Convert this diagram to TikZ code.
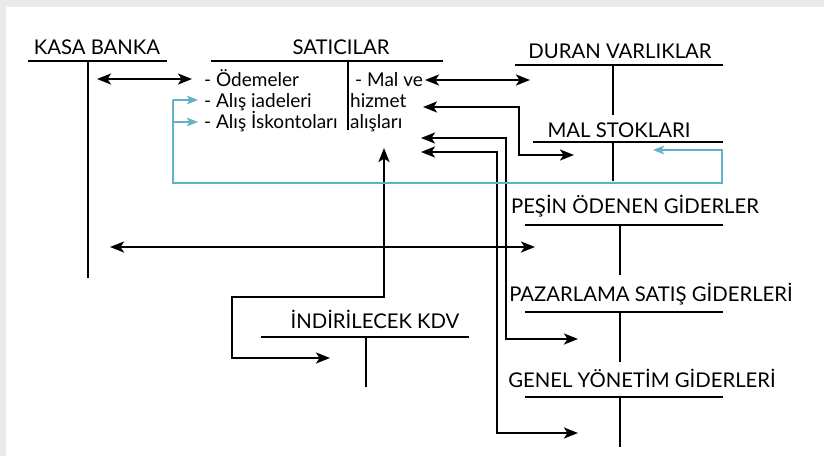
\documentclass[tikz,border=0pt]{standalone}
\usepackage{fontspec}
\setmainfont{Lato}
\usetikzlibrary{arrows.meta,calc}
\definecolor{backline}{RGB}{96,178,200}
\definecolor{scanframe}{RGB}{234,234,234}
\tikzset{%
  title/.style = {anchor=base, inner sep=0pt, font=\fontsize{20.3}{22}\selectfont},%
  item/.style  = {anchor=base west, inner sep=0pt, font=\fontsize{19}{21}\selectfont},%
  tline/.style = {line width=2.8pt},%
  conn/.style  = {line width=2.4pt, line join=miter,%
                  {Stealth[length=14pt,width=11pt,inset=3.5pt]}-{Stealth[length=14pt,width=11pt,inset=3.5pt]}},%
  back/.style  = {line width=1.7pt, draw=backline,%
                  -{Stealth[length=11pt,width=8.5pt,inset=2.5pt]}}%
}

\begin{document}
\begin{tikzpicture}[x=1pt,y=-1pt]
	\useasboundingbox (0,0) rectangle (824,456);
	\fill[scanframe] (0,0) rectangle (824,456);
	\fill[white] (6,7) rectangle (824,456);
	% T accounts
	\node[title] (kasa) at (97,54) {KASA BANKA};
	\draw[tline] (28,61) -- (167,61) (88,61) -- (88,278);
	\node[title] (satici) at (341,54) {SATICILAR};
	\draw[tline] (211,61) -- (443,61) (348,61) -- (348,130);
	\node[title] (duran) at (620,58) {DURAN VARLIKLAR};
	\draw[tline] (515,65) -- (723,65) (613,65) -- (613,115);
	\node[title] (stok) at (619,137) {MAL STOKLARI};
	\draw[tline] (533,142) -- (723,142) (613,142) -- (613,181);
	\node[title] (pesin) at (635,213) {PEŞİN ÖDENEN GİDERLER};
	\draw[tline] (525,225) -- (723,225) (620,225) -- (620,275);
	\node[title] (pazar) at (651,301) {PAZARLAMA SATIŞ GİDERLERİ};
	\draw[tline] (525,312) -- (723,312) (620,312) -- (620,362);
	\node[title] (genel) at (642,387) {GENEL YÖNETİM GİDERLERİ};
	\draw[tline] (525,397) -- (723,397) (620,397) -- (620,447);
	\node[title] (kdv) at (375,328) {İNDİRİLECEK KDV};
	\draw[tline] (261,337) -- (469,337) (366,337) -- (366,387);
	% satıcılar entries
	\node[item] (odeme) at (204,86) {- Ödemeler};
	\node[item] (iade) at (204,107) {- Alış iadeleri};
	\node[item] (iskonto) at (204,128) {- Alış İskontoları};
	\node[item] (malve) at (355,86) {- Mal ve};
	\node[item] (hizmet) at (350,107) {hizmet};
	\node[item] (alislar) at (350,128) {alışları};
	% connector ends
	\coordinate (kasaA) at (97,79);
	\coordinate (odemeA) at (192,79);
	\coordinate (malveA) at (425,80);
	\coordinate (duranA) at (530,80);
	\coordinate (hizmetA) at (423,107);
	\coordinate (stokA) at (574,155);
	\coordinate (stokB) at (653,150);
	\coordinate (iadeA) at (198,100);
	\coordinate (iskontoA) at (198,122);
	\coordinate (alisA) at (384,148);
	\coordinate (kdvA) at (330,358);
	\coordinate (kasaB) at (110,247);
	\coordinate (pesinA) at (535,247);
	\coordinate (alisB) at (421,138);
	\coordinate (pazarA) at (578,339);
	\coordinate (alisC) at (421,152);
	\coordinate (genelA) at (578,433);
	% connectors
	\draw[conn] (kasaA) -- (odemeA);
	\draw[conn] (malveA) -- (duranA);
	\draw[conn] (hizmetA) -- ++(96,0) |- (stokA);
	\draw[conn] (alisA) -- (384,297) -| (232,358) -- (kdvA);
	\draw[conn] (kasaB) -- (pesinA);
	\draw[conn] (alisB) -| (506,339) -- (pazarA);
	\draw[conn] (alisC) -| (497,433) -- (genelA);
	% iade and iskonto back to stocks
	\draw[back] (173,100) -- (iadeA);
	\draw[back] (173,122) -- (iskontoA);
	\draw[back] (173,100) |- (722,183) |- (stokB);
\end{tikzpicture}
\end{document}
